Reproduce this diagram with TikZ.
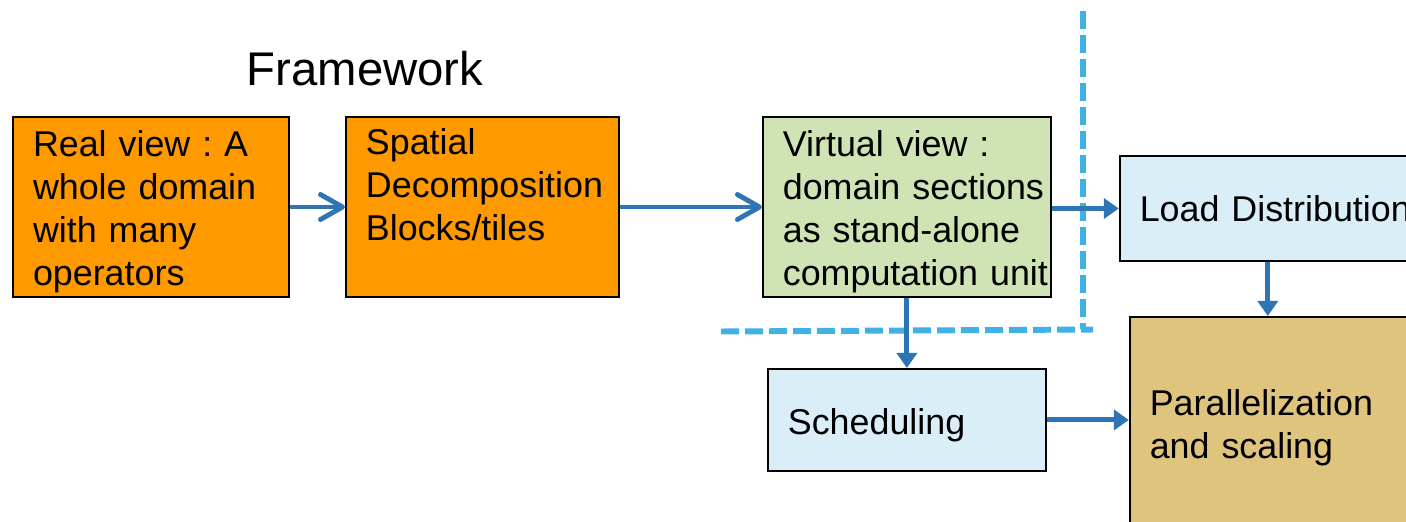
\documentclass[tikz,border=0pt]{standalone}
\usepackage{fontspec}
\setmainfont{Liberation Sans}
\usepackage{xcolor}
\usepackage{tikz}
\usetikzlibrary{positioning,arrows.meta}
\definecolor{realorange}{RGB}{255,153,0}
\definecolor{virtgreen}{RGB}{208,227,181}
\definecolor{taskblue}{RGB}{218,238,248}
\definecolor{paratan}{RGB}{223,196,126}
\definecolor{flowblue}{RGB}{46,117,182}
\definecolor{splitblue}{RGB}{65,176,228}
\hyphenpenalty=10000
\exhyphenpenalty=10000
\frenchspacing

\begin{document}
\begin{tikzpicture}[
    box/.style={draw, line width=1.1pt, align=left, inner xsep=0.4cm, inner ysep=0cm, font=\fontsize{20.4}{24.4}\selectfont},
    dropped/.style={execute at begin node={\rule{0pt}{0.72cm}}},
    flowopen/.style={flowblue, line width=2.8pt, -{Straight Barb[length=0.44cm, width=0.5cm, round]}},
    flowfill/.style={flowblue, line width=2.8pt, -{Triangle[length=0.3cm, width=0.4cm]}},
    split/.style={splitblue, line width=3.4pt, dash pattern=on 0.36cm off 0.12cm}
]
    \useasboundingbox (0,0) rectangle (28.12,-10.42);
    \clip (0,0) rectangle (28.12,-10.42);

    \node [font=\fontsize{26.9}{32}\selectfont] (title) at (7.3,-1.37) {Framework};

    \node [box, dropped, fill=realorange, text width=4.72cm, minimum height=3.6cm] (real) at (3.02,-4.14) {Real view : A\\whole domain\\with many\\operators};

    \node [box, dropped, fill=realorange, right=1.1cm of real, text width=4.66cm, minimum height=3.6cm] (spatial) {Spatial\\Decomposition\\Blocks/tiles\\\strut};

    \node [box, dropped, fill=virtgreen, right=2.84cm of spatial, text width=4.96cm, minimum height=3.6cm] (virtual) {Virtual view :\\domain~sections\\as~stand-alone\\computation~unit};

    \node [box, fill=taskblue, right=1.34cm of virtual, yshift=-0.03cm, text width=5.12cm, minimum height=2.1cm] (load) {Load~Distribution};

    \node [box, dropped, fill=taskblue, below=1.4cm of virtual, text width=4.76cm, minimum height=2.04cm] (sched) {Scheduling};

    \node [box, dropped, fill=paratan, right=1.64cm of sched, yshift=-0.06cm, text width=5.6cm, minimum height=4.24cm] (para) {Parallelization\\and scaling};

    % split lines
    \draw [split] (14.42,-6.63) -- (21.86,-6.59);
    \draw [split] (21.66,-0.22) -- (21.66,-6.57);

    \draw [flowopen] (real) -- (spatial);
    \draw [flowopen] (spatial) -- (virtual);
    \draw [flowfill] (virtual.east |- load.west) -- (load.west);
    \draw [flowfill] (virtual) -- (sched);
    \draw [flowfill] (load.south) -- (load.south |- para.north);
    \draw [flowfill] (sched) -- (sched -| para.west);

\end{tikzpicture}
\end{document}
